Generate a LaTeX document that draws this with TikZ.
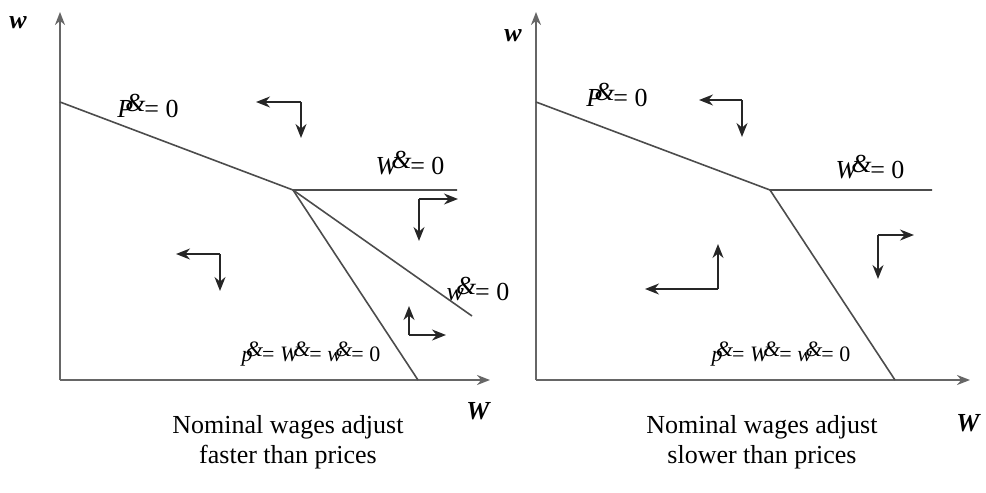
\documentclass[tikz,border=0pt]{standalone}
\usepackage{fontspec}
\setmainfont{Liberation Serif}
\usetikzlibrary{arrows.meta, positioning}

% dotted variable as it is printed: letter with a raised ampersand on top
\newcommand{\rate}[1]{\textit{#1}\kern-0.3em\raisebox{0.55ex}{\textit{\&}}\kern-0.05em}

\begin{document}
\begin{tikzpicture}[x=0.5pt, y=-0.5pt,
    axis/.style={draw=black!60, line width=1.1pt, -{Stealth[length=6.5pt, width=5pt]}},
    curve/.style={draw=black!70, line width=0.8pt},
    move/.style={draw=black!85, line width=0.8pt, -{Stealth[length=7pt, width=5.5pt]}},
    axlbl/.style={font=\fontsize{13}{15}\selectfont\bfseries\itshape, inner sep=0pt},
    lbl/.style={font=\fontsize{13}{15}\selectfont, inner sep=0pt},
    small lbl/.style={font=\fontsize{11}{13}\selectfont, inner sep=0pt},
    caption/.style={font=\fontsize{13}{15}\selectfont, align=center, inner sep=0pt}]
  \useasboundingbox (0,0) rectangle (986,493);

  % left panel: wages faster
  \coordinate (Lo) at (60,380);
  \coordinate (Ly) at (60,12);
  \coordinate (Lx) at (490,380);
  \coordinate (Lp) at (60,102);
  \coordinate (Lk) at (293,190);
  \coordinate (Lh) at (457,190);
  \coordinate (Lb) at (418,380);
  \coordinate (Lv) at (472,316);
  \draw[axis] (Lo) -- (Ly);
  \draw[axis] (Lo) -- (Lx);
  \draw[curve] (Lp) -- (Lk) -- (Lh);
  \draw[curve] (Lk) -- (Lb);
  \draw[curve] (Lk) -- (Lv);
  \node[axlbl] (Lwlbl) at (18,23) {w};
  \node[axlbl] (LWlbl) at (478,411) {W};
  \node[lbl] (LPdot) at (148,106) {\rate{P}= 0};
  \node[lbl] (LWdot) at (410,163) {\rate{W}= 0};
  \node[lbl] (Lwdot) at (478,289) {\rate{w}= 0};
  \node[small lbl] (Lall) at (311,354) {\rate{p}= \rate{W}= \rate{w}= 0};
  \node[caption] (Lcap) at (288,442) {Nominal wages adjust\\faster than prices};

  % direction arrows, left
  \coordinate (La) at (301,102);
  \coordinate (Lah) at (256,102);
  \coordinate (Lav) at (301,138);
  \coordinate (Lb1) at (419,199);
  \coordinate (Lbh) at (458,199);
  \coordinate (Lbv) at (419,241);
  \coordinate (Lc) at (220,254);
  \coordinate (Lch) at (176,254);
  \coordinate (Lcv) at (220,291);
  \coordinate (Ld) at (409,335);
  \coordinate (Ldh) at (446,335);
  \coordinate (Ldv) at (409,306);
  \draw[move] (La) -- (Lah);
  \draw[move] (La) -- (Lav);
  \draw[move] (Lb1) -- (Lbh);
  \draw[move] (Lb1) -- (Lbv);
  \draw[move] (Lc) -- (Lch);
  \draw[move] (Lc) -- (Lcv);
  \draw[move] (Ld) -- (Ldh);
  \draw[move] (Ld) -- (Ldv);

  % right panel: wages slower
  \coordinate (Ro) at (536,380);
  \coordinate (Ry) at (536,12);
  \coordinate (Rx) at (970,380);
  \coordinate (Rp) at (536,102);
  \coordinate (Rk) at (770,190);
  \coordinate (Rh) at (932,190);
  \coordinate (Rb) at (895,380);
  \draw[axis] (Ro) -- (Ry);
  \draw[axis] (Ro) -- (Rx);
  \draw[curve] (Rp) -- (Rk) -- (Rh);
  \draw[curve] (Rk) -- (Rb);
  \node[axlbl] (Rwlbl) at (513,36) {w};
  \node[axlbl] (RWlbl) at (968,423) {W};
  \node[lbl] (RPdot) at (617,95) {\rate{P}= 0};
  \node[lbl] (RWdot) at (870,167) {\rate{W}= 0};
  \node[small lbl] (Rall) at (781,354) {\rate{p}= \rate{W}= \rate{w}= 0};
  \node[caption] (Rcap) at (762,442) {Nominal wages adjust\\slower than prices};

  % direction arrows, right
  \coordinate (Ra) at (742,100);
  \coordinate (Rah) at (699,100);
  \coordinate (Rav) at (742,137);
  \coordinate (Rb1) at (878,235);
  \coordinate (Rbh) at (914,235);
  \coordinate (Rbv) at (878,279);
  \coordinate (Rc) at (718,289);
  \coordinate (Rch) at (645,289);
  \coordinate (Rcv) at (718,244);
  \draw[move] (Ra) -- (Rah);
  \draw[move] (Ra) -- (Rav);
  \draw[move] (Rb1) -- (Rbh);
  \draw[move] (Rb1) -- (Rbv);
  \draw[move] (Rc) -- (Rch);
  \draw[move] (Rc) -- (Rcv);
\end{tikzpicture}
\end{document}
